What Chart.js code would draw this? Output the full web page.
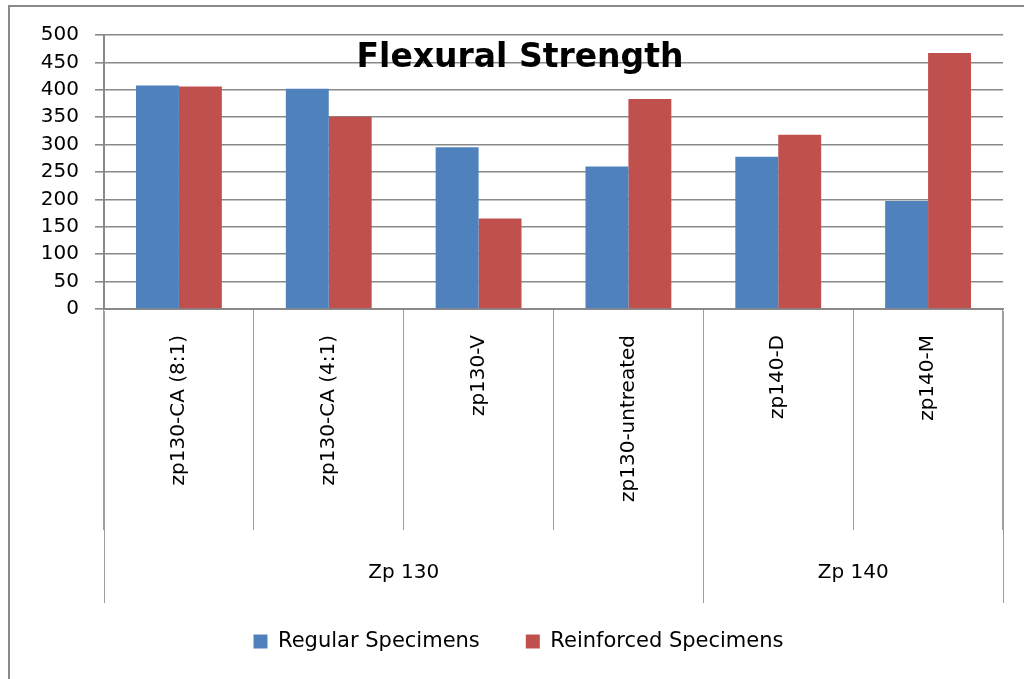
<!DOCTYPE html>
<html>
<head>
<meta charset="utf-8">
<title>Flexural Strength</title>
<script src="https://cdn.jsdelivr.net/npm/chart.js@4"></script>
<style>
  html, body { margin: 0; padding: 0; background: #ffffff; }
  canvas { display: block; }
</style>
</head>
<body>
<canvas id="chart" width="1024" height="679"></canvas>
<script>
// Specimen types along the x axis, grouped by zeolite grade
const categories = ["zp130-CA (8:1)", "zp130-CA (4:1)", "zp130-V", "zp130-untreated", "zp140-D", "zp140-M"];
const groupLabels = ["Zp 130", "Zp 140"];
const groupSizes = [4, 2];

// Flexural strength of each specimen type
const regularSpecimens = [408, 402, 295, 260, 278, 197];
const reinforcedSpecimens = [406, 351, 165, 383, 318, 467];

// Value axis range
const yMin = 0;
const yMax = 500;
const yStep = 50;

const chartTitle = "Flexural Strength";
const gridColor = "#898989";
const tickColor = "#9e9e9e";
const textFont = "DejaVu Sans";

// Outer frame, chart title, group labels and the long group separators
const decorations = {
  id: "decorations",
  beforeDraw(chart) {
    const ctx = chart.ctx;
    ctx.save();
    ctx.strokeStyle = "#8a8a8a";
    ctx.lineWidth = 2;
    ctx.beginPath();
    ctx.moveTo(9, chart.height + 5);
    ctx.lineTo(9, 6);
    ctx.lineTo(chart.width + 5, 6);
    ctx.stroke();
    ctx.restore();
  },
  afterDraw(chart) {
    const ctx = chart.ctx;
    const xs = chart.scales.x;
    const step = xs.width / categories.length;
    const sepBottom = xs.top + 294;
    ctx.save();

    // separators between groups reach further down
    ctx.strokeStyle = tickColor;
    ctx.lineWidth = 1;
    let idx = 0;
    const bounds = [0];
    groupSizes.forEach(n => { idx += n; bounds.push(idx); });
    bounds.forEach(b => {
      const x = Math.round(xs.left + b * step - 0.5) + 0.5;
      ctx.beginPath();
      ctx.moveTo(x, xs.top + 2);
      ctx.lineTo(x, sepBottom);
      ctx.stroke();
    });

    // group labels centred under their categories
    ctx.fillStyle = "#000";
    ctx.font = "20px '" + textFont + "'";
    ctx.textAlign = "center";
    ctx.textBaseline = "middle";
    for (let g = 0; g < groupLabels.length; g++) {
      const x0 = xs.left + bounds[g] * step;
      const x1 = xs.left + bounds[g + 1] * step;
      ctx.fillText(groupLabels[g], (x0 + x1) / 2, xs.top + 264);
    }

    // title sits inside the plot area
    ctx.font = "bold 33px '" + textFont + "'";
    ctx.textAlign = "center";
    ctx.textBaseline = "alphabetic";
    ctx.fillText(chartTitle, (chart.width + 16) / 2, 67);
    ctx.restore();
  }
};

new Chart(document.getElementById("chart"), {
  type: "bar",
  data: {
    labels: categories,
    datasets: [
      {
        label: "Regular Specimens",
        data: regularSpecimens,
        backgroundColor: "#4F81BD",
        borderWidth: 0
      },
      {
        label: "Reinforced Specimens",
        data: reinforcedSpecimens,
        backgroundColor: "#C0504D",
        borderWidth: 0
      }
    ]
  },
  options: {
    responsive: false,
    animation: false,
    categoryPercentage: 0.573,
    barPercentage: 1,
    layout: { padding: { left: 34, right: 21, top: 35, bottom: 17 } },
    plugins: {
      title: { display: false },
      tooltip: { enabled: false },
      legend: {
        position: "bottom",
        labels: {
          boxWidth: 14,
          boxHeight: 14,
          padding: 46,
          color: "#000",
          font: { family: textFont, size: 21 }
        }
      }
    },
    scales: {
      x: {
        grid: {
          offset: true,
          drawOnChartArea: false,
          tickLength: 221,
          color: tickColor,
          lineWidth: 1
        },
        border: { color: gridColor, width: 2 },
        ticks: {
          autoSkip: false,
          maxRotation: 90,
          minRotation: 90,
          padding: -195,
          color: "#000",
          font: { family: textFont, size: 20 }
        },
        afterFit(scale) { scale.height = 276; }
      },
      y: {
        min: yMin,
        max: yMax,
        ticks: {
          stepSize: yStep,
          padding: 16,
          color: "#000",
          font: { family: textFont, size: 20 }
        },
        grid: { color: gridColor, lineWidth: 1.6, tickLength: 9 },
        border: { color: gridColor, width: 2 },
        afterFit(scale) { scale.width = 70; }
      }
    }
  },
  plugins: [decorations]
});
</script>
</body>
</html>
